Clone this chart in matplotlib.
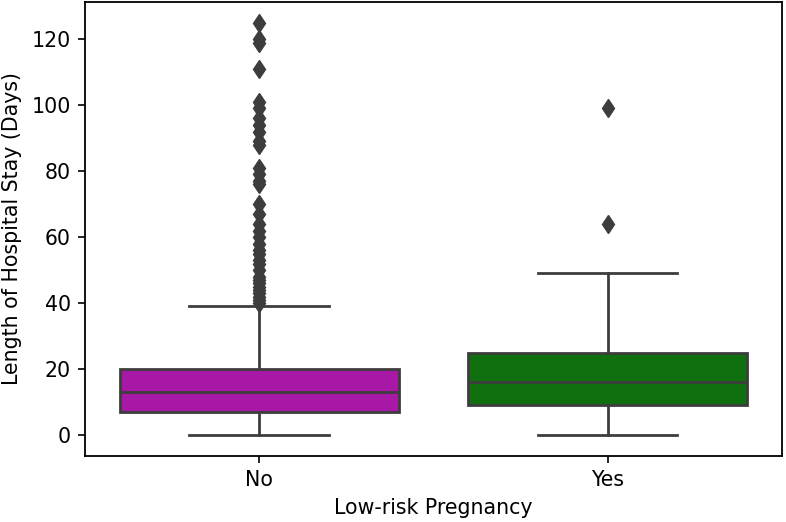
import matplotlib.pyplot as plt

# box stats
groups = ["No", "Yes"]
q1 = [7, 9]
medians = [13, 16]
q3 = [20, 25]
whislo = [0, 0]
whishi = [39, 49]
outliers_no = [125, 120, 119, 111, 101, 99, 96, 94, 92, 89, 88, 81, 79, 77, 76,
               70, 67, 64, 62, 60, 58, 56, 55, 53, 52, 50, 48, 47, 46, 45, 44,
               43, 42, 41, 40]
outliers_yes = [99, 64]
colors = ["#a718a7", "#107010"]

stats = []
for i, g in enumerate(groups):
    stats.append({
        "label": g,
        "q1": q1[i], "med": medians[i], "q3": q3[i],
        "whislo": whislo[i], "whishi": whishi[i],
        "fliers": outliers_no if i == 0 else outliers_yes,
    })

plt.rcParams["font.size"] = 14.8
fig, ax = plt.subplots(figsize=(7.86, 5.22), dpi=100)
fig.subplots_adjust(left=0.108, right=0.995, top=0.996, bottom=0.127)

gray = "#3d3d3d"
lw = 2.0
bp = ax.bxp(stats, positions=[0, 1], widths=0.8, patch_artist=True,
            boxprops=dict(edgecolor=gray, linewidth=lw),
            medianprops=dict(color=gray, linewidth=lw),
            whiskerprops=dict(color=gray, linewidth=lw),
            capprops=dict(color=gray, linewidth=lw),
            flierprops=dict(marker="d", markerfacecolor=gray, markeredgecolor=gray,
                            markersize=9.5, linestyle="none"))
for patch, c in zip(bp["boxes"], colors):
    patch.set_facecolor(c)

ax.set_xlim(-0.5, 1.5)
ax.set_ylim(-6.25, 131.25)
ax.set_xticks([0, 1])
ax.set_xticklabels(groups)
ax.set_xlabel("Low-risk Pregnancy", labelpad=6)
ax.set_ylabel("Length of Hospital Stay (Days)", labelpad=7)
ax.tick_params(length=5, width=1.2, pad=5, labelsize=14.8)
for s in ax.spines.values():
    s.set_linewidth(1.3)

fig.savefig("out.png")
